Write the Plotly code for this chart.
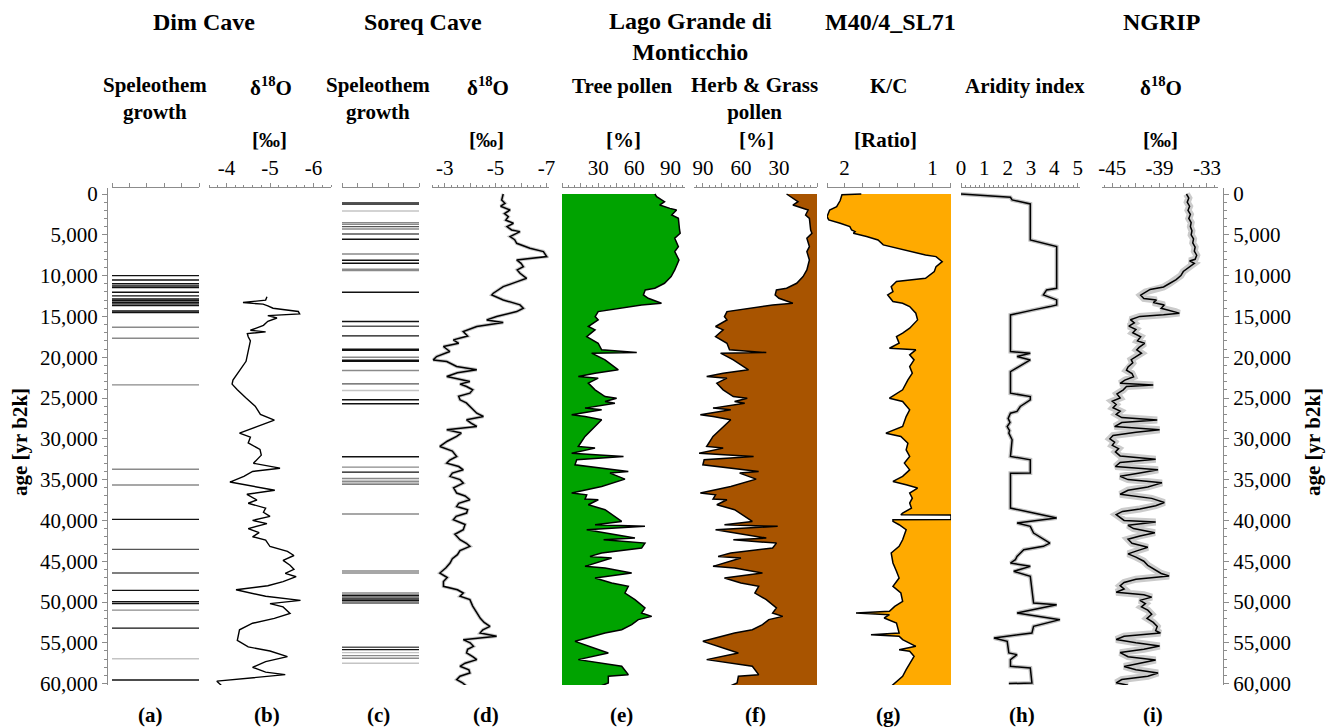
import plotly.graph_objects as go

# ---------------- data ----------------
# Dim Cave speleothem growth phases (yr b2k) and shade class (0 black .. 3 light grey)
dim_growth_age = [10000, 10530, 11000, 11270, 11470, 12040, 12490, 12860, 13060, 13270,
                  13470, 13670, 14330, 14530, 16330, 17670, 23390, 33740, 35660, 39870,
                  43550, 46450, 48570, 49960, 50200, 51000, 53200, 56950, 59560]
dim_growth_shade = [0, 0, 0, 0, 0, 0, 0, 0, 0, 0,
                    0, 0, 0, 0, 2, 2, 2, 2, 2, 0,
                    1, 1, 0, 0, 0, 2, 0, 3, 0]

# Dim Cave d18O
dim_age = [12600, 13000, 13300, 13500, 13700, 14000, 14400, 14700, 14900, 15200,
           15600, 16100, 16400, 16700, 16900, 17100, 17500, 18000, 20500, 21800,
           22800, 23300, 24000, 25000, 26000, 27000, 27700, 28500, 29300, 29800,
           30500, 31300, 32000, 33000, 33600, 34000, 34600, 35300, 35700, 36300,
           36800, 37500, 37900, 38500, 39000, 39500, 40000, 40400, 41000, 41500,
           42000, 42400, 43200, 43800, 44300, 44900, 45500, 46000, 46500, 46900,
           47500, 48000, 48500, 48900, 49300, 49800, 50200, 50600, 51400, 52000,
           52600, 53400, 54700, 55500, 56000, 56700, 57300, 58000, 58600, 58900,
           59300, 59700, 60200]
dim_d18o = [-4.93, -4.90, -4.38, -4.84, -4.95, -5.07, -5.65, -5.68, -4.95, -5.16,
            -4.95, -4.85, -4.70, -4.55, -4.90, -4.48, -4.50, -4.55, -4.45, -4.28,
            -4.15, -4.13, -4.25, -4.45, -4.66, -4.78, -5.10, -4.70, -4.30, -4.55,
            -4.50, -4.77, -4.80, -4.62, -5.23, -4.60, -4.40, -4.08, -4.50, -5.11,
            -4.47, -4.70, -4.50, -4.90, -4.85, -5.00, -4.60, -4.93, -4.50, -4.75,
            -4.60, -4.90, -5.00, -5.40, -5.55, -5.30, -5.46, -5.55, -5.35, -5.60,
            -5.30, -4.95, -4.22, -4.60, -4.90, -5.70, -5.00, -5.30, -5.46, -5.10,
            -4.60, -4.30, -4.25, -4.50, -5.00, -5.40, -4.90, -4.60, -4.90, -5.35,
            -4.50, -3.78, -3.88]

# Soreq Cave speleothem growth phases (yr b2k) and shade class
soreq_growth_age = [1060, 1220, 2080, 3510, 3710, 4000, 4290, 4900, 5550, 7350,
                    8120, 8490, 9220, 9390, 12040, 15630, 16200, 17390, 19020, 19140,
                    20000, 20370, 20490, 21630, 23270, 24080, 25220, 25710, 32200, 33470,
                    34080, 34860, 35100, 35270, 35550, 39220, 46200, 46450, 48900, 49180,
                    49390, 49630, 49840, 50120, 55550, 55840, 56200, 56570, 56900, 57500]
soreq_growth_shade = [1, 0, 3, 2, 2, 1, 2, 1, 0, 2,
                      0, 0, 2, 2, 0, 0, 1, 0, 0, 0,
                      2, 0, 0, 2, 1, 3, 0, 0, 0, 2,
                      0, 2, 3, 2, 1, 2, 2, 2, 2, 0,
                      1, 0, 0, 1, 1, 0, 3, 2, 2, 3]

# Soreq Cave d18O
soreq_age = [0, 730, 1140, 1500, 1960, 2400, 2780, 3200, 3590, 4000,
             4410, 4610, 5220, 5600, 6040, 6450, 6650, 7060, 7670, 8080,
             8500, 8900, 9300, 9710, 10330, 10800, 11350, 12160, 12370, 12980,
             13590, 14000, 14410, 15020, 15430, 15760, 16240, 16860, 17400, 17880,
             18300, 18690, 19300, 19920, 20330, 20530, 21140, 21550, 21900, 22370,
             22980, 23300, 23590, 24000, 24410, 24800, 25220, 25600, 26040, 26860,
             27270, 27670, 28100, 28490, 28900, 29300, 29710, 30300, 30940, 31500,
             32160, 32600, 32980, 33400, 33800, 34200, 34610, 35000, 35430, 36000,
             36650, 37000, 37470, 37900, 38290, 38700, 39100, 39500, 39920, 40500,
             41140, 41700, 42370, 42800, 43180, 43700, 44200, 44700, 45220, 45800,
             46450, 47000, 47500, 48080, 48500, 48900, 49300, 49710, 50500, 51350,
             52000, 52500, 52980, 53400, 53800, 54200, 54610, 55000, 55430, 55800,
             56240, 56700, 57060, 57500, 57880, 58300, 58690, 59100, 59510, 59900,
             60330]
soreq_d18o = [-5.30, -5.24, -5.37, -5.20, -5.57, -5.35, -5.50, -5.40, -5.70, -5.45,
              -5.63, -5.96, -5.57, -5.75, -5.83, -6.16, -6.35, -6.88, -7.01, -5.83,
              -6.00, -6.09, -5.85, -5.96, -6.22, -5.80, -5.30, -4.91, -4.85, -5.30,
              -5.96, -6.09, -5.83, -5.04, -4.65, -5.30, -4.26, -3.73, -3.90, -3.34,
              -3.55, -2.95, -3.20, -2.68, -2.55, -3.08, -3.47, -4.26, -3.50, -3.08,
              -3.99, -3.60, -3.86, -4.10, -3.99, -3.55, -3.60, -3.85, -3.99, -4.26,
              -4.52, -3.86, -4.05, -4.26, -3.08, -3.65, -3.47, -3.10, -2.81, -3.30,
              -3.47, -3.20, -3.08, -3.55, -3.73, -3.30, -3.21, -3.60, -3.73, -3.35,
              -3.47, -3.80, -3.99, -3.55, -3.47, -3.90, -3.86, -3.45, -3.34, -3.80,
              -3.73, -3.40, -3.60, -3.85, -3.99, -3.60, -3.50, -3.30, -3.21, -3.05,
              -2.81, -3.10, -2.95, -2.95, -3.50, -3.73, -3.60, -3.99, -4.10, -4.26,
              -4.40, -4.55, -4.78, -4.50, -4.39, -5.04, -3.73, -4.00, -4.13, -3.90,
              -3.86, -4.10, -4.26, -3.80, -3.60, -3.95, -3.99, -3.60, -3.47, -3.70,
              -3.86]

# Lago Grande di Monticchio pollen (%)
pollen_age = [0, 330, 940, 1350, 1760, 1960, 2570, 2980, 4410, 4820,
              5430, 6450, 7060, 8080, 9310, 10120, 10940, 11550, 11760, 12370,
              12780, 13390, 13590, 14000, 14410, 15020, 15430, 16240, 16650, 17470,
              18290, 19100, 19430, 19510, 20330, 21550, 21960, 22370, 22570, 23180,
              24000, 24820, 25020, 25430, 25630, 26240, 26450, 27060, 27270, 27670,
              29710, 30940, 31140, 31760, 32160, 32570, 33180, 34000, 34200, 34940,
              35840, 36650, 36860, 37390, 37470, 38080, 38690, 40120, 40530, 40730,
              41140, 42160, 42370, 42780, 43390, 44000, 44410, 44610, 45630, 45830,
              46450, 47060, 47670, 48080, 48900, 49710, 50730, 51350, 51760, 52160,
              52780, 53390, 53800, 54820, 55220, 56240, 57060, 57880, 58900, 59100,
              59920, 60400]
tree_pollen = [77, 78.5, 85, 81, 89.5, 95, 91, 96.5, 97.5, 98,
               93.5, 96.5, 93.5, 97, 93.5, 90.5, 85, 77, 69, 67.5,
               71.5, 82.5, 66, 49.5, 30, 27.5, 30, 21.8, 27.4, 20.5,
               30, 32.9, 62, 24.6, 35.7, 46.7, 27.4, 13.5, 30, 21.8,
               27.4, 35.7, 45.3, 35.7, 43.9, 19.1, 32.9, 8, 19.1, 32.9,
               19.1, 13.5, 27.4, 8, 51, 12.2, 10.8, 55, 39.8, 52.2,
               32.9, 8, 20.5, 19.1, 30.1, 21.8, 35.7, 49.5, 27.4, 68.8,
               20.5, 60.5, 34.5, 68.8, 66, 32.9, 23.2, 41.2, 19.1, 35.7,
               57.8, 27.4, 41.2, 55, 52.2, 60.5, 68.8, 66, 74.4, 63.3,
               57.8, 49.5, 35.7, 10.8, 19.1, 38.4, 13.5, 49.5, 55, 38.4,
               38.4, 30.1]
herb_pollen = [24, 21, 15, 19, 10, 7, 9, 6, 5, 4,
               8, 6, 8, 6, 8, 11, 16, 24, 32, 33,
               30, 19, 35, 52, 71, 73, 71, 80, 74, 80,
               71, 69, 40, 76, 66, 54, 74, 87, 71, 79,
               74, 66, 55, 65, 57, 82, 68, 92, 82, 68,
               82, 87, 74, 93, 50, 89, 90, 46, 61, 48,
               68, 92, 80, 82, 71, 79, 65, 51, 73, 31,
               80, 40, 66, 32, 35, 68, 78, 60, 82, 65,
               43, 73, 60, 46, 49, 40, 32, 35, 27, 38,
               43, 51, 65, 90, 82, 62, 87, 51, 46, 62,
               63, 70]

# M40/4_SL71 K/C ratio
kc_age = [0, 100, 800, 1550, 1960, 2780, 3180, 3390, 3590, 4000,
          4410, 4610, 4820, 5220, 5630, 6240, 6650, 7060, 7470, 7670,
          8080, 8290, 8900, 9510, 10330, 10730, 11350, 11960, 12370, 13180,
          13390, 13800, 14610, 15430, 16450, 17060, 17470, 18290, 18900, 19100,
          19710, 20330, 21140, 21960, 22780, 24000, 25020, 25430, 26450, 27270,
          28490, 29310, 29710, 30530, 31350, 32160, 32980, 33800, 34610, 35220,
          35630, 36040, 36650, 37270, 37880, 38490, 39100, 39310, 39330, 39900,
          39920, 40120, 40530, 41140, 42370, 43180, 44000, 45220, 46240, 47060,
          48080, 48900, 49920, 50530, 51140, 51350, 51550, 51960, 52570, 53800,
          54000, 54200, 54610, 55020, 55430, 55840, 56040, 56650, 57470, 58290,
          59100, 59710, 60330]
kc_ratio = [1.81, 2.03, 2.05, 2.09, 2.17, 2.20, 2.18, 2.11, 2.05, 1.94,
            1.92, 1.88, 1.90, 1.75, 1.62, 1.56, 1.41, 1.23, 1.08, 0.96,
            0.91, 0.89, 0.96, 0.98, 1.08, 1.41, 1.47, 1.45, 1.51, 1.45,
            1.34, 1.26, 1.19, 1.17, 1.26, 1.34, 1.41, 1.38, 1.49, 1.19,
            1.26, 1.21, 1.26, 1.23, 1.28, 1.34, 1.49, 1.34, 1.26, 1.30,
            1.34, 1.53, 1.36, 1.28, 1.30, 1.26, 1.32, 1.26, 1.34, 1.45,
            1.30, 1.17, 1.26, 1.23, 1.26, 1.24, 1.34, 1.36, 0.79, 0.79,
            1.45, 1.45, 1.38, 1.30, 1.34, 1.38, 1.47, 1.45, 1.41, 1.38,
            1.45, 1.36, 1.34, 1.43, 1.49, 1.87, 1.49, 1.55, 1.41, 1.38,
            1.70, 1.38, 1.34, 1.26, 1.19, 1.38, 1.26, 1.21, 1.26, 1.30,
            1.34, 1.41, 1.47]
kc_base = 0.79

# M40/4_SL71 aridity index
arid_age = [0, 240, 410, 730, 1220, 5630, 5840, 6450, 11550, 11760,
            12370, 12980, 13590, 13800, 14200, 14820, 19310, 19510, 19920, 20330,
            21760, 24410, 24820, 25220, 26040, 26650, 26860, 27500, 28000, 28500,
            29000, 29310, 30120, 32160, 32570, 34200, 34210, 38490, 39100, 39710,
            40330, 40730, 41550, 42780, 43180, 43590, 44410, 44820, 45220, 45630,
            46240, 46860, 50120, 50330, 51350, 52160, 52980, 53800, 54410, 54820,
            56240, 56450, 57060, 57880, 58080, 59920, 60000]
arid_index = [0.0, 1.27, 2.12, 2.19, 2.97, 2.97, 3.25, 4.10, 4.10, 3.67,
              3.53, 4.10, 4.10, 3.81, 3.11, 2.12, 2.12, 2.97, 2.40, 2.97,
              2.12, 2.12, 2.97, 2.97, 2.54, 2.40, 2.12, 2.02, 2.10, 1.98,
              2.08, 2.05, 2.19, 2.12, 2.97, 2.97, 2.12, 2.12, 3.11, 4.10,
              2.40, 2.97, 3.11, 3.81, 3.53, 2.69, 2.40, 2.33, 2.12, 2.97,
              2.26, 2.97, 3.11, 4.10, 2.40, 4.24, 3.11, 3.04, 1.41, 1.98,
              2.05, 2.40, 2.12, 2.12, 2.97, 3.04, 2.05]

# NGRIP d18O
ngrip_age = [0, 500, 1000, 1500, 2000, 2500, 3000, 3500, 4000, 4500,
             5000, 5500, 6000, 6500, 7000, 7500, 8000, 8200, 8500, 9000,
             9500, 10000, 10500, 11000, 11400, 11700, 12000, 12400, 12800, 13000,
             13300, 13600, 14000, 14400, 14600, 14800, 15000, 15400, 15800, 16200,
             16600, 17000, 17500, 18000, 18300, 18800, 19100, 19500, 19900, 20300,
             20700, 21200, 21600, 22000, 22400, 22800, 23200, 23400, 23600, 24000,
             24500, 25000, 25400, 25800, 26200, 26600, 27000, 27400, 27700, 28000,
             28500, 28900, 29200, 29600, 30000, 30400, 30800, 31200, 31600, 32100,
             32500, 32900, 33400, 33800, 34200, 34600, 35000, 35400, 35900, 36300,
             36800, 37300, 37800, 38200, 38600, 38900, 39300, 39600, 40000, 40200,
             40600, 41000, 41500, 41900, 42300, 42800, 43300, 43700, 44100, 44500,
             45000, 45500, 46000, 46500, 46800, 47200, 47600, 48000, 48400, 48800,
             49100, 49400, 49800, 50200, 50600, 51000, 51500, 52000, 52500, 53000,
             53500, 53800, 54200, 54600, 55000, 55400, 55800, 56200, 56700, 57100,
             57500, 57900, 58300, 58700, 59100, 59500, 59900, 60200]
ngrip_d18o = [-35.6, -35.3, -35.5, -35.2, -35.4, -35.1, -35.3, -35.0, -35.1, -34.9,
              -35.0, -34.7, -34.8, -34.5, -34.6, -34.3, -34.5, -35.2, -34.6, -35.3,
              -36.0, -36.3, -36.9, -37.8, -38.5, -40.2, -40.8, -41.4, -41.0, -39.4,
              -39.8, -38.4, -38.8, -37.0, -36.5, -38.5, -41.5, -42.7, -42.2, -42.9,
              -42.0, -42.4, -41.4, -41.8, -40.9, -41.6, -41.9, -41.3, -42.0, -42.6,
              -42.4, -43.0, -43.2, -42.5, -42.3, -43.4, -44.0, -39.8, -43.2, -43.6,
              -44.4, -44.0, -45.0, -44.5, -44.9, -44.0, -44.5, -43.8, -39.3, -43.8,
              -44.7, -39.0, -42.0, -44.9, -45.3, -44.7, -45.0, -44.2, -44.6, -44.0,
              -39.5, -44.0, -44.6, -39.2, -41.5, -44.0, -43.0, -38.7, -40.5, -43.0,
              -44.0, -40.0, -38.4, -39.5, -41.5, -43.7, -44.5, -44.0, -43.5, -39.5,
              -43.0, -42.3, -39.6, -41.5, -43.0, -42.5, -40.5, -41.8, -43.0, -42.0,
              -41.0, -40.5, -39.6, -38.8, -37.8, -42.0, -43.5, -44.0, -43.5, -44.5,
              -41.0, -40.0, -41.5, -40.8, -41.3, -40.5, -40.0, -40.6, -39.8, -39.3,
              -39.5, -38.9, -43.5, -44.5, -42.0, -39.0, -41.0, -44.0, -43.0, -39.5,
              -41.5, -43.5, -42.0, -39.2, -40.5, -43.8, -44.5, -43.0]

# ---------------- layout helpers ----------------
W, H = 1336, 728
FONT = "Liberation Serif"
AXIS_GREY = "#8c8c8c"
SHADES = ["#111111", "#555555", "#8a8a8a", "#c4c4c4"]


def px(x):
    return x / W


def py(y):
    return 1 - y / H


PLOT_TOP, PLOT_BOTTOM = 188, 685
AGE_RANGE = [60170, -735]

fig = go.Figure()


def growth_traces(ages, shades, xaxis):
    for s, colour in enumerate(SHADES):
        xs, ys = [], []
        for a, sh in zip(ages, shades):
            if sh == s:
                xs += [0, 5, None]
                ys += [a, a, None]
        if xs:
            fig.add_trace(go.Scatter(x=xs, y=ys, mode="lines", xaxis=xaxis, yaxis="y",
                                     line=dict(color=colour, width=1.4), hoverinfo="skip"))


# (a) Dim Cave growth
growth_traces(dim_growth_age, dim_growth_shade, "x")
# (b) Dim Cave d18O
fig.add_trace(go.Scatter(x=dim_d18o, y=dim_age, mode="lines", xaxis="x2", yaxis="y",
                         line=dict(color="black", width=1.4)))
# (c) Soreq Cave growth
growth_traces(soreq_growth_age, soreq_growth_shade, "x3")
# (d) Soreq Cave d18O with grey halo
fig.add_trace(go.Scatter(x=soreq_d18o, y=soreq_age, mode="lines", xaxis="x4", yaxis="y",
                         line=dict(color="#c8c8c8", width=3.5)))
fig.add_trace(go.Scatter(x=soreq_d18o, y=soreq_age, mode="lines", xaxis="x4", yaxis="y",
                         line=dict(color="black", width=1.5)))
# (e) tree pollen
fig.add_trace(go.Scatter(x=tree_pollen, y=pollen_age, mode="lines", xaxis="x5", yaxis="y",
                         fill="tozerox", fillcolor="#00a300",
                         line=dict(color="black", width=1.5)))
# (f) herb & grass pollen
fig.add_trace(go.Scatter(x=herb_pollen, y=pollen_age, mode="lines", xaxis="x6", yaxis="y",
                         fill="tozerox", fillcolor="#a85400",
                         line=dict(color="black", width=1.5)))
# (g) K/C ratio filled towards the low-ratio edge
fig.add_trace(go.Scatter(x=[kc_base, kc_base], y=[kc_age[0], kc_age[-1]], mode="lines",
                         xaxis="x7", yaxis="y", line=dict(width=0), hoverinfo="skip"))
fig.add_trace(go.Scatter(x=kc_ratio, y=kc_age, mode="lines", xaxis="x7", yaxis="y",
                         fill="tonextx", fillcolor="#ffaa00",
                         line=dict(color="black", width=1.5)))
# (h) aridity index with grey shadow
fig.add_trace(go.Scatter(x=arid_index, y=arid_age, mode="lines", xaxis="x8", yaxis="y",
                         line=dict(color="#c0c0c0", width=4)))
fig.add_trace(go.Scatter(x=arid_index, y=arid_age, mode="lines", xaxis="x8", yaxis="y",
                         line=dict(color="black", width=1.5)))
# (i) NGRIP d18O with grey halo
fig.add_trace(go.Scatter(x=ngrip_d18o, y=ngrip_age, mode="lines", xaxis="x9", yaxis="y",
                         line=dict(color="#cbcbcb", width=7)))
fig.add_trace(go.Scatter(x=ngrip_d18o, y=ngrip_age, mode="lines", xaxis="x9", yaxis="y",
                         line=dict(color="black", width=1.5)))
# right-hand age axis
fig.add_trace(go.Scatter(x=[None], y=[None], xaxis="x9", yaxis="y2", hoverinfo="skip"))

# ---------------- axes ----------------
panels = {
    "xaxis":  dict(dom=(112, 199), rng=[0, 5], vals=[0, 1, 2, 3, 4, 5], text=[""] * 6),
    "xaxis2": dict(dom=(209, 331), rng=[-3.6, -6.4], vals=[-4, -5, -6], text=["-4", "-5", "-6"], minor=0.2),
    "xaxis3": dict(dom=(342, 419), rng=[0, 5], vals=[0, 1, 2, 3, 4, 5], text=[""] * 6),
    "xaxis4": dict(dom=(432, 549), rng=[-2.5, -7.1], vals=[-3, -4, -5, -6, -7],
                   text=["-3", "", "-5", "", "-7"], minor=0.25),
    "xaxis5": dict(dom=(562, 685), rng=[0, 102], vals=[0, 15, 30, 45, 60, 75, 90],
                   text=["", "", "30", "", "60", "", "90"], minor=5),
    "xaxis6": dict(dom=(694, 817), rng=[97, 0], vals=[0, 15, 30, 45, 60, 75, 90],
                   text=["", "", "30", "", "60", "", "90"], minor=5),
    "xaxis7": dict(dom=(827, 951), rng=[2.2, 0.79], vals=[2.2, 2.0, 1.8, 1.6, 1.4, 1.2, 1.0, 0.8],
                   text=["", "2", "", "", "", "", "1", ""]),
    "xaxis8": dict(dom=(961, 1080), rng=[0, 5.1], vals=[0, 1, 2, 3, 4, 5],
                   text=["0", "1", "2", "3", "4", "5"], minor=0.2),
    "xaxis9": dict(dom=(1102, 1218), rng=[-46.3, -31.6], vals=[-45, -42, -39, -36, -33],
                   text=["-45", "", "-39", "", "-33"], minor=1),
}

layout_axes = {}
for name, p in panels.items():
    ax = dict(domain=[px(p["dom"][0]), px(p["dom"][1])], range=p["rng"], anchor="y",
              side="top", showline=True, linecolor=AXIS_GREY, linewidth=1,
              ticks="outside", ticklen=4, tickcolor=AXIS_GREY, tickwidth=1,
              tickmode="array", tickvals=p["vals"], ticktext=p["text"],
              tickfont=dict(family=FONT, size=21, color="black"),
              showgrid=False, zeroline=False, fixedrange=True, automargin=False)
    if "minor" in p:
        ax["minor"] = dict(dtick=p["minor"], ticks="outside", ticklen=2,
                           tickcolor=AXIS_GREY, showgrid=False)
    layout_axes[name] = ax

yaxis_common = dict(range=AGE_RANGE, domain=[py(PLOT_BOTTOM), py(PLOT_TOP)],
                    showline=True, linecolor=AXIS_GREY, linewidth=1,
                    ticks="outside", ticklen=5, tickcolor=AXIS_GREY,
                    tickmode="array", tickvals=[0, 5000, 10000, 15000, 20000, 25000, 30000,
                                                35000, 40000, 45000, 50000, 55000, 60000],
                    tickformat=",d", separatethousands=True,
                    tickfont=dict(family=FONT, size=21, color="black"),
                    minor=dict(dtick=1000, ticks="outside", ticklen=3, tickcolor=AXIS_GREY,
                               showgrid=False),
                    showgrid=False, zeroline=False, fixedrange=True, automargin=False)

fig.update_layout(
    width=W, height=H, autosize=False,
    margin=dict(l=0, r=0, t=0, b=0, autoexpand=False),
    paper_bgcolor="white", plot_bgcolor="white",
    showlegend=False,
    yaxis=dict(**yaxis_common, anchor="free", position=px(107), side="left"),
    yaxis2=dict(**yaxis_common, anchor="free", position=px(1223), side="right",
                overlaying="y"),
    **layout_axes,
)

# ---------------- text ----------------
def label(text, x, y, size=21):
    fig.add_annotation(text=text, x=px(x), y=py(y), xref="paper", yref="paper",
                       showarrow=False, xanchor="center", yanchor="middle",
                       font=dict(family=FONT, size=size, color="black"))


# site names
label("<b>Dim Cave</b>", 204, 22, 24)
label("<b>Soreq Cave</b>", 423, 22, 24)
label("<b>Lago Grande di<br>Monticchio</b>", 690, 36, 24)
label("<b>M40/4_SL71</b>", 890, 22, 24)
label("<b>NGRIP</b>", 1161, 22, 24)

# proxy names
label("<b>Speleothem<br>growth</b>", 155, 99)
label("<b>δ<sup>18</sup>O</b>", 271, 86)
label("<b>Speleothem<br>growth</b>", 378, 99)
label("<b>δ<sup>18</sup>O</b>", 488, 86)
label("<b>Tree pollen</b>", 622, 86)
label("<b>Herb & Grass<br>pollen</b>", 754, 99)
label("<b>K/C</b>", 888, 86)
label("<b>Aridity index</b>", 1025, 86)
label("<b>δ<sup>18</sup>O</b>", 1161, 86)

# units
label("<b>[‰]</b>", 269, 140)
label("<b>[‰]</b>", 486, 140)
label("<b>[%]</b>", 623, 140)
label("<b>[%]</b>", 757, 140)
label("<b>[Ratio]</b>", 885, 140)
label("<b>[‰]</b>", 1160, 140)

# panel letters
for letter, x in zip("abcdefghi", [150, 267, 378, 486, 621, 755, 888, 1022, 1153]):
    label(f"<b>({letter})</b>", x, 715)

# age axis titles
for x in (20, 1313):
    fig.add_annotation(text="<b>age [yr b2k]</b>", x=px(x), y=py(442), xref="paper",
                       yref="paper", showarrow=False, textangle=-90,
                       xanchor="center", yanchor="middle",
                       font=dict(family=FONT, size=21, color="black"))

fig.write_html("out.html")
